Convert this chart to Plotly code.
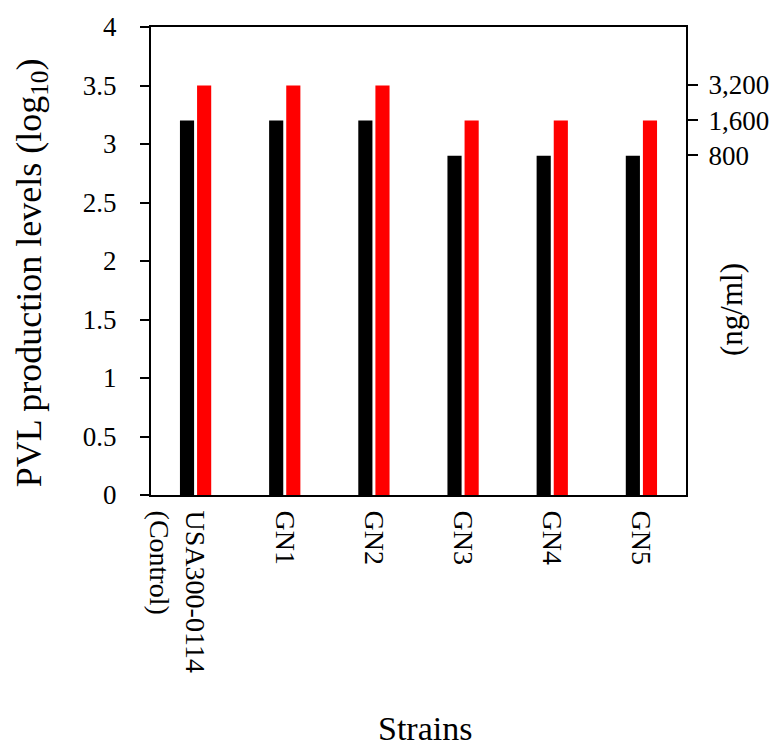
import plotly.graph_objects as go

strains = ["USA300-0114<br>(Control)", "GN1", "GN2", "GN3", "GN4", "GN5"]
strain_ticktext = ["\u00a0<br>USA300-0114<br>(Control)", "GN1", "GN2", "GN3", "GN4", "GN5"]
black_vals = [3.2, 3.2, 3.2, 2.9, 2.9, 2.9]
red_vals = [3.5, 3.5, 3.5, 3.2, 3.2, 3.2]
left_ticks = [0, 0.5, 1, 1.5, 2, 2.5, 3, 3.5, 4]
left_ticktext = ["0", "0.5", "1", "1.5", "2", "2.5", "3", "3.5", "4"]
right_tickvals = [3.505, 3.204, 2.903]
right_ticktext = ["3,200", "1,600", "800"]

FONT = "Liberation Serif, Times New Roman, serif"

fig = go.Figure()
fig.add_trace(go.Bar(x=strains, y=black_vals, marker=dict(color="#000000", line=dict(width=0)),
                     name="black", showlegend=False))
fig.add_trace(go.Bar(x=strains, y=red_vals, marker=dict(color="#ff0000", line=dict(width=0)),
                     name="red", showlegend=False))
# invisible trace for right axis
fig.add_trace(go.Scatter(x=[strains[0]], y=[0], yaxis="y2", mode="markers",
                         marker=dict(opacity=0), showlegend=False, hoverinfo="skip"))

fig.update_layout(
    width=781, height=749,
    margin=dict(l=151, r=92, t=22, b=254),
    paper_bgcolor="white", plot_bgcolor="white",
    barmode="group", bargap=0.616, bargroupgap=0.174,
    font=dict(family=FONT, color="black"),
    xaxis=dict(type="category", range=[-0.5, 5.5], showline=True, linecolor="black",
               linewidth=2, mirror=True, ticks="", tickangle=90,
               tickvals=strains, ticktext=strain_ticktext,
               tickfont=dict(size=28, family=FONT), ticklabelstandoff=8, showgrid=False),
    yaxis=dict(range=[0, 4], tickvals=left_ticks, ticktext=left_ticktext, showline=True,
               linecolor="black", linewidth=2, mirror=False, ticks="outside", ticklen=9,
               tickwidth=2, tickcolor="black", tickfont=dict(size=27, family=FONT),
               ticklabelstandoff=18, showgrid=False, zeroline=False),
    yaxis2=dict(range=[0, 4], overlaying="y", side="right", tickvals=right_tickvals,
                ticktext=right_ticktext, showline=True, linecolor="black", linewidth=2,
                ticks="outside", ticklen=10, tickwidth=1.5, tickcolor="black",
                tickfont=dict(size=27, family=FONT), ticklabelstandoff=5,
                showgrid=False, zeroline=False),
    annotations=[
        dict(text="PVL production levels (log<sub>10</sub>)", textangle=-90,
             xref="paper", yref="paper", x=0, y=(495 - 271) / 473, xanchor="center",
             yanchor="middle", xshift=-(151 - 31), showarrow=False,
             font=dict(size=36, family=FONT, color="black")),
        dict(text="(ng/ml)", textangle=-90, xref="paper", yref="paper", x=1,
             y=(495 - 308) / 473, xanchor="center", yanchor="middle", xshift=735 - 689,
             showarrow=False, font=dict(size=31, family=FONT, color="black")),
        dict(text="Strains", xref="paper", yref="paper", x=(427 - 151) / 538,
             y=(495 - 731) / 473, xanchor="center", yanchor="middle", showarrow=False,
             font=dict(size=34, family=FONT, color="black")),
    ],
)

fig.write_html("out.html", config={"displayModeBar": False},
               post_script="document.body.style.margin='0';document.body.style.overflow='hidden';")
